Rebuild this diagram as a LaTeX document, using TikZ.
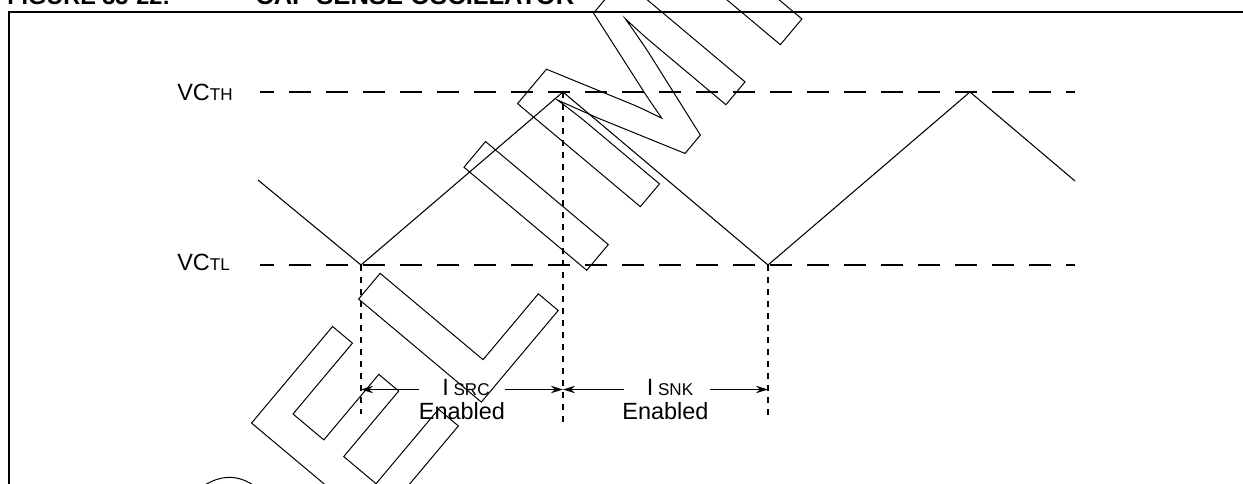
\documentclass[tikz,border=0pt]{standalone}
\usepackage{fontspec}
\setmainfont{Liberation Sans}
\usetikzlibrary{arrows.meta}
\newcommand\wmstroke{\special{pdf:literal direct 1 Tr}}
\newcommand\wmfill{\special{pdf:literal direct 0 Tr}}
\newcommand\smc[1]{{\fontsize{12.8pt}{14pt}\selectfont #1}}
\tikzset{
  frameline/.style={line width=1.5pt},
  level/.style={line width=1.6pt, dash pattern=on 16.5pt off 11.25pt, dash phase=6pt},
  marker/.style={line width=1.5pt, dash pattern=on 4.5pt off 4.5pt},
  wave/.style={line width=0.8pt},
  span/.style={line width=1.2pt, -{Stealth[length=9pt,width=5.5pt]}},
  lbl/.style={inner sep=0pt, font=\fontsize{17.6pt}{20pt}\selectfont},
  ttl/.style={inner sep=0pt, anchor=base west, font=\bfseries},
  wm/.style={inner sep=0pt, rotate=50, anchor=base west, font=\fontsize{174.75pt}{175pt}\selectfont\bfseries},
}
\begin{document}
\begin{tikzpicture}[x=0.75pt,y=-0.75pt]
\useasboundingbox (0,0) rectangle (1243,483);
% title (cut by the top edge)
\node[ttl] (fig) at (7,4.5) {\fontsize{17.6pt}{20pt}\selectfont FIGURE 33-22:};
\node[ttl] (cap) at (255,4.5) {\fontsize{19.2pt}{21pt}\selectfont CAP SENSE OSCILLATOR};
% frame
\draw[frameline] (1260,12) -- (8.5,12) -- (8.5,500);
% watermark
\begin{scope}[line width=0.75pt]
\node[wm] (wR) at (244.4,680.9) {\wmstroke R\wmfill};
\node[wm] (wE) at (364,538.4) {\wmstroke E\wmfill};
\node[wm] (wL) at (471,414.4) {\wmstroke L\wmfill};
\node[wm] (wI) at (576.4,282.6) {\wmstroke I\wmfill};
\node[wm] (wM) at (630,219) {\wmstroke M\wmfill};
\node[wm] (wI2) at (770,57) {\wmstroke I\wmfill};
\end{scope}
% labels
\node[lbl, anchor=base west] (vcth) at (177,100) {VC\smc{TH}};
\node[lbl, anchor=base west] (vctl) at (177,270) {VC\smc{TL}};
\node[lbl, anchor=base] (isrc) at (466,395) {I\hspace{3.5pt}\smc{SRC}};
\node[lbl, anchor=base] (srcen) at (462,419) {Enabled};
\node[lbl, anchor=base] (isnk) at (670,395) {I\hspace{3.5pt}\smc{SNK}};
\node[lbl, anchor=base] (snken) at (665.5,419) {Enabled};
% key points
\coordinate (s0) at (258,180);
\coordinate (lo1) at (361,265);
\coordinate (hi1) at (563,92);
\coordinate (lo2) at (768,265);
\coordinate (hi2) at (970,92);
\coordinate (s1) at (1075,181);
\coordinate (hL) at (260,92);
\coordinate (hR) at (1075,92);
\coordinate (lL) at (260,265);
\coordinate (lR) at (1075,265);
\coordinate (e1) at (361,414);
\coordinate (e2) at (563,425);
\coordinate (e3) at (768,417);
% levels
\draw[level] (hL) -- (hR);
\draw[level] (lL) -- (lR);
% markers
\draw[marker] (lo1) -- (e1);
\draw[marker] (hi1) -- (e2);
\draw[marker] (lo2) -- (e3);
% waveform
\draw[wave] (s0) -- (lo1) -- (hi1) -- (lo2) -- (hi2) -- (s1);
% span arrows
\coordinate (a1s) at (419,389.5); \coordinate (a1e) at (361,389.5);
\coordinate (a2s) at (505,389.5); \coordinate (a2e) at (563,389.5);
\coordinate (a3s) at (624,389.5); \coordinate (a3e) at (563,389.5);
\coordinate (a4s) at (710,389.5); \coordinate (a4e) at (768,389.5);
\draw[span] (a1s) -- (a1e);
\draw[span] (a2s) -- (a2e);
\draw[span] (a3s) -- (a3e);
\draw[span] (a4s) -- (a4e);
\end{tikzpicture}
\end{document}
